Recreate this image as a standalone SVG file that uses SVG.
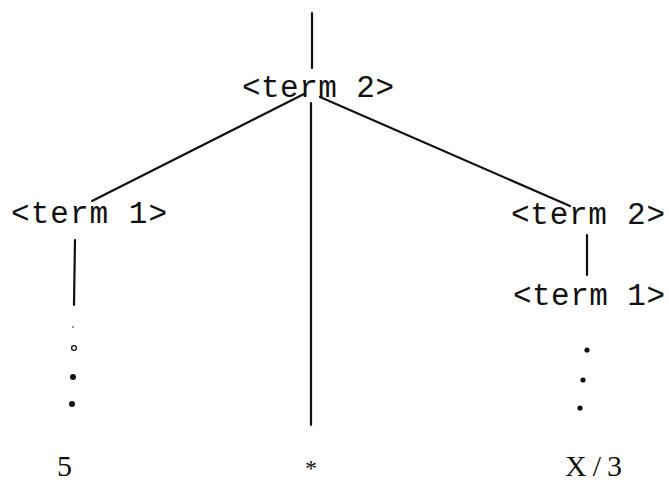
<svg xmlns="http://www.w3.org/2000/svg" width="669" height="485" viewBox="0 0 669 485">
<style>
.t{font-family:"Liberation Mono","DejaVu Sans Mono",monospace;font-size:31px;fill:#111}
.s{font-family:"Liberation Serif","DejaVu Serif",serif;font-size:30px;fill:#111}
.c{stroke:#111;stroke-width:2.2;fill:none;stroke-linecap:round}
.d{fill:#111}
</style>
<rect width="669" height="485" fill="#fff"/>
<g id="connectors">
<line class="c" x1="312" y1="13" x2="312" y2="68"/>
<line class="c" x1="304" y1="94" x2="92" y2="201"/>
<line class="c" x1="320" y1="97" x2="570" y2="206"/>
<line class="c" x1="311" y1="103" x2="311" y2="425"/>
<line class="c" x1="75" y1="240" x2="74" y2="305"/>
<line class="c" x1="587" y1="235" x2="587" y2="275"/>
</g>
<g id="root"><text class="t" x="242" y="97" textLength="152" lengthAdjust="spacing">&lt;term 2&gt;</text></g>
<g id="left"><text class="t" x="11" y="223" textLength="156" lengthAdjust="spacing">&lt;term 1&gt;</text></g>
<g id="right"><text class="t" x="511" y="224" textLength="154" lengthAdjust="spacing">&lt;term 2&gt;</text></g>
<g id="right-child"><text class="t" x="513" y="305" textLength="152" lengthAdjust="spacing">&lt;term 1&gt;</text></g>
<g id="left-dots">
<circle class="d" cx="73" cy="327" r="0.8"/>
<circle cx="74" cy="348" r="2.4" fill="none" stroke="#111" stroke-width="1.3"/>
<circle class="d" cx="73" cy="377" r="3"/>
<circle class="d" cx="72" cy="404" r="3"/>
</g>
<g id="right-dots">
<circle class="d" cx="587" cy="350" r="2.6"/>
<circle class="d" cx="583" cy="380" r="2.6"/>
<circle class="d" cx="580" cy="408" r="2.6"/>
</g>
<g id="leaf-5"><text class="s" x="57" y="476">5</text></g>
<g id="leaf-star"><text class="s" x="311" y="476" text-anchor="middle" style="font-size:24px">*</text></g>
<g id="leaf-x3"><text class="s" x="565" y="476" textLength="57" lengthAdjust="spacing">X/3</text></g>
</svg>
